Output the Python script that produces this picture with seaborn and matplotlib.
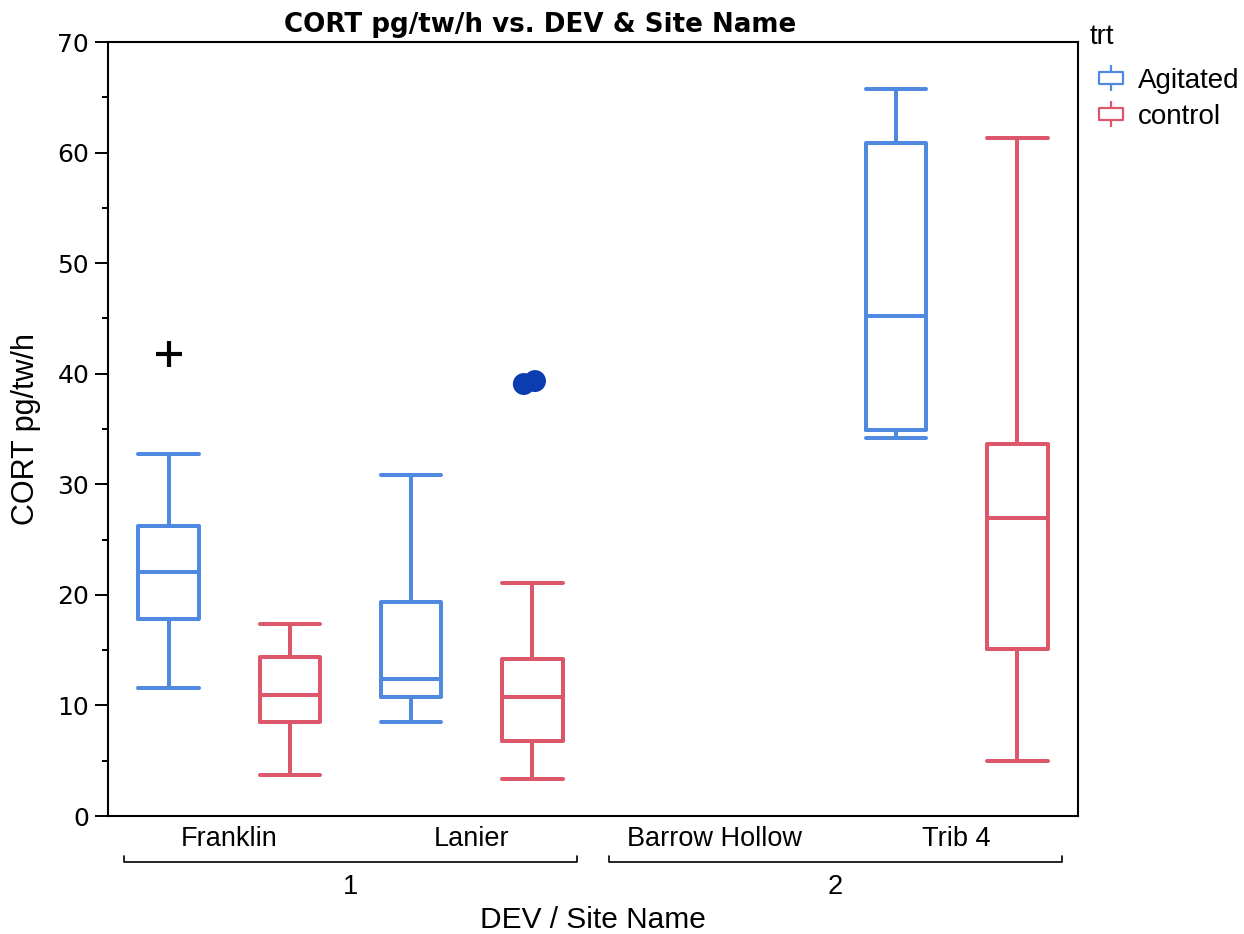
import numpy as np
import pandas as pd
import matplotlib
matplotlib.use("Agg")
import matplotlib.pyplot as plt
from matplotlib.path import Path
from matplotlib.lines import Line2D
from matplotlib.ticker import MultipleLocator
import seaborn as sns

# Sites on the x axis, with the DEV group each belongs to
sites = ["Franklin", "Lanier", "Barrow Hollow", "Trib 4"]
dev_groups = ["1", "2"]
dev_sites = [["Franklin", "Lanier"], ["Barrow Hollow", "Trib 4"]]
treatments = ["Agitated", "control"]

# Five-number summaries (lower whisker, Q1, median, Q3, upper whisker)
franklin_agitated = [11.6, 17.85, 22.07, 26.2, 32.74]
franklin_control = [3.7, 8.5, 10.94, 14.38, 17.36]
lanier_agitated = [8.5, 10.76, 12.39, 19.35, 30.84]
lanier_control = [3.35, 6.78, 10.76, 14.2, 21.07]
trib4_agitated = [34.19, 34.9, 45.22, 60.87, 65.75]
trib4_control = [4.97, 15.1, 26.95, 33.64, 61.32]

# Individually marked points
plus_site, plus_trt, plus_value = "Franklin", "Agitated", 41.78
dot_site, dot_trt = "Lanier", "control"
dot_values = [39.07, 39.34]
dot_jitter = [-0.035, 0.011]

colors = {"Agitated": "#5089E0", "control": "#DB5769"}

records = []
for site, trt, vals in [
    ("Franklin", "Agitated", franklin_agitated),
    ("Franklin", "control", franklin_control),
    ("Lanier", "Agitated", lanier_agitated),
    ("Lanier", "control", lanier_control),
    ("Trib 4", "Agitated", trib4_agitated),
    ("Trib 4", "control", trib4_control),
]:
    for v in vals:
        records.append({"Site Name": site, "trt": trt, "CORT pg/tw/h": v})
df = pd.DataFrame(records)

sns.set_style("white")
plt.rcParams["font.family"] = ["Liberation Sans", "DejaVu Sans"]
plt.rcParams.update({"text.color": "black", "axes.labelcolor": "black",
                     "xtick.color": "black", "ytick.color": "black"})

fig = plt.figure(figsize=(12.44, 9.34), dpi=100)
ax = fig.add_axes([0.0868, 0.1263, 0.7797, 0.8287])

lw = 2.9
sns.boxplot(
    data=df, x="Site Name", y="CORT pg/tw/h", hue="trt",
    order=sites, hue_order=treatments, palette=colors,
    fill=False, width=1.0, gap=0.5, linewidth=lw,
    showfliers=False, legend=False, ax=ax, capwidths=0.25,
)

# hue offset used by the dodged boxes
hue_off = {"Agitated": -0.25, "control": 0.25}

px = sites.index(plus_site) + hue_off[plus_trt]
sns.scatterplot(x=[px], y=[plus_value], marker="+", s=330, color="black",
                linewidth=3.0, ax=ax, zorder=5, legend=False)

dx = [sites.index(dot_site) + hue_off[dot_trt] + j for j in dot_jitter]
sns.scatterplot(x=dx, y=dot_values, color="#0B3DB0", s=250, edgecolor="none",
                ax=ax, zorder=5, legend=False)

ax.set_xlim(-0.5, 3.5)
ax.set_ylim(0, 70)
ax.yaxis.set_major_locator(MultipleLocator(10))
ax.yaxis.set_minor_locator(MultipleLocator(5))
ax.tick_params(axis="y", which="major", length=9.5, width=1.4, labelsize=18,
               pad=4, left=True, color="black", labelcolor="black")
ax.tick_params(axis="y", which="minor", length=4.3, width=1.4, left=True,
               color="black")
for lab in ax.get_yticklabels():
    lab.set_fontfamily("DejaVu Sans")
ax.tick_params(axis="x", length=0, labelsize=19.5, pad=7, labelcolor="black")
for sp in ax.spines.values():
    sp.set_visible(True)
    sp.set_color("black")
    sp.set_linewidth(1.5)

ax.set_xlabel("")
ax.set_ylabel("CORT pg/tw/h", fontsize=22, color="black")
ax.yaxis.label.set_verticalalignment("center")
ax.yaxis.set_label_coords(-0.0845, 0.5)

# Nested DEV axis below the site labels
trans = ax.get_xaxis_transform()
inset = 0.066
for g, members in zip(dev_groups, dev_sites):
    i0 = sites.index(members[0]) - 0.5 + inset
    i1 = sites.index(members[-1]) + 0.5 - inset
    yb, yt = -0.0594, -0.0520
    ax.plot([i0, i0, i1, i1], [yt, yb, yb, yt], transform=trans, color="black",
            lw=1.2, clip_on=False)
    ax.text((i0 + i1) / 2, -0.092, g, transform=trans, ha="center", va="center",
            fontsize=19.5, color="black")
ax.text(0.5, -0.134, "DEV / Site Name", transform=ax.transAxes, ha="center",
        va="center", fontsize=21.5, color="black")

fig.text(540 / 1244, 1 - 25 / 934, "CORT pg/tw/h vs. DEV & Site Name",
         ha="center", va="center", fontsize=18.8, fontweight="bold",
         family="DejaVu Sans", color="black")

# Legend: title text plus box icons with whiskers
fig.text(1090 / 1244, 1 - 37 / 934, "trt", ha="left", va="center",
         fontsize=20, color="black")
icon = Path(
    [(-0.9, -0.42), (0.9, -0.42), (0.9, 0.42), (-0.9, 0.42), (-0.9, -0.42),
     (0, 0.42), (0, 1.0), (0, -0.42), (0, -1.0)],
    [Path.MOVETO, Path.LINETO, Path.LINETO, Path.LINETO, Path.CLOSEPOLY,
     Path.MOVETO, Path.LINETO, Path.MOVETO, Path.LINETO],
)
handles = [Line2D([], [], linestyle="none", marker=icon, markersize=19,
                  markerfacecolor="none", markeredgecolor=colors[t],
                  markeredgewidth=1.6) for t in treatments]
leg = fig.legend(handles, treatments, loc="upper left",
                 bbox_to_anchor=(1096 / 1244, 1 - 68 / 934), frameon=False,
                 fontsize=20, handlelength=1.1, handletextpad=0.4,
                 labelspacing=0.35, borderaxespad=0, borderpad=0.0)
for t in leg.get_texts():
    t.set_color("black")

fig.savefig("out.png", dpi=100, facecolor="white")
